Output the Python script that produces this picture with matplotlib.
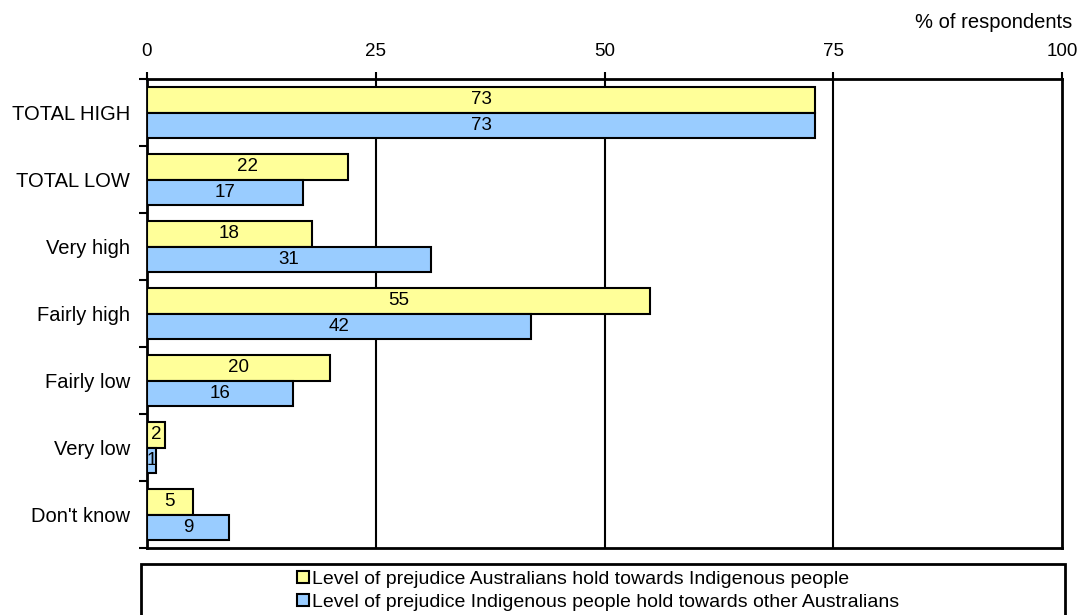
import matplotlib
matplotlib.use("Agg")
import matplotlib.pyplot as plt
from matplotlib.patches import Rectangle, Patch
import numpy as np

plt.rcParams['font.family'] = ['Liberation Sans', 'DejaVu Sans']

categories = ["TOTAL HIGH", "TOTAL LOW", "Very high", "Fairly high",
              "Fairly low", "Very low", "Don't know"]
australians_to_indigenous = [73, 22, 18, 55, 20, 2, 5]
indigenous_to_australians = [73, 17, 31, 42, 16, 1, 9]
series_names = ["Level of prejudice Australians hold towards Indigenous people",
                "Level of prejudice Indigenous people hold towards other Australians"]
x_ticks = [0, 25, 50, 75, 100]
x_label = "% of respondents"

yellow = "#FFFF99"
blue = "#99CCFF"

W, H = 1079, 615
fig = plt.figure(figsize=(W / 100, H / 100), dpi=100)
ax = fig.add_axes([147 / W, 1 - 548 / H, (1062 - 147) / W, (548 - 79) / H])

n = len(categories)
pos = np.arange(n)
bh = 0.375
b1 = ax.barh(pos - bh / 2, australians_to_indigenous, height=bh, color=yellow,
             edgecolor="black", linewidth=1.5, zorder=3)
b2 = ax.barh(pos + bh / 2, indigenous_to_australians, height=bh, color=blue,
             edgecolor="black", linewidth=1.5, zorder=3)

for bars, vals in ((b1, australians_to_indigenous), (b2, indigenous_to_australians)):
    for rect, v in zip(bars, vals):
        ax.text(rect.get_x() + rect.get_width() / 2, rect.get_y() + rect.get_height() / 2,
                str(v), ha="center", va="center", fontsize=13.5, zorder=4)

ax.set_xlim(0, 100)
ax.set_ylim(n - 0.5, -0.5)

# x axis on top with black vertical gridlines
ax.xaxis.tick_top()
ax.set_xticks(x_ticks)
ax.set_xticklabels([str(t) for t in x_ticks], fontsize=13.5)
ax.tick_params(axis="x", direction="out", length=5, width=1.5, pad=9)
for t in x_ticks[1:-1]:
    ax.axvline(t, color="black", linewidth=1.5, zorder=1)

# category boundaries as ticks, names centred between them
ax.set_yticks(np.arange(n + 1) - 0.5)
ax.set_yticklabels([])
ax.tick_params(axis="y", which="major", direction="out", length=6, width=1.5)
ax.set_yticks(pos, minor=True)
ax.set_yticklabels(categories, minor=True, fontsize=14.5)
ax.tick_params(axis="y", which="minor", length=0, pad=12)

for s in ax.spines.values():
    s.set_linewidth(2)
    s.set_color("black")

fig.text(1072 / W, 1 - 23 / H, x_label, ha="right", va="center", fontsize=14.5)

# legend frame running off the bottom edge
fig.patches.append(Rectangle((141 / W, -0.05), (1065 - 141) / W, 0.05 + (615 - 564) / H,
                             transform=fig.transFigure, facecolor="white",
                             edgecolor="black", linewidth=2))
handles = [Patch(facecolor=yellow, edgecolor="black", linewidth=1.5),
           Patch(facecolor=blue, edgecolor="black", linewidth=1.5)]
fig.legend(handles, series_names, loc="center left",
           bbox_to_anchor=(297 / W, 1 - 591 / H), frameon=False, fontsize=14,
           handlelength=0.6, handleheight=0.6, handletextpad=0.15,
           labelspacing=0.3, borderpad=0, borderaxespad=0)

fig.savefig("out.png", dpi=100)
